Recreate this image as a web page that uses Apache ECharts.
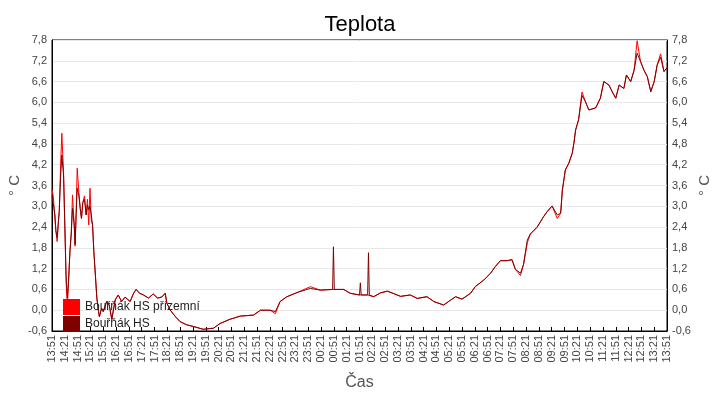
<!DOCTYPE html>
<html>
<head>
<meta charset="utf-8">
<script src="https://cdn.jsdelivr.net/npm/echarts@6/dist/echarts.min.js"></script>
<style>
  html, body { margin: 0; padding: 0; background: #fff; }
  #main { width: 720px; height: 400px; }
</style>
</head>
<body>
<div id="main"></div>
<script>
// minuty od 13:51
var minutes = [0,3,7,9,12,15,17,20,23,27,30,33,36,39,42,45,48,52,54,56,59,63,66,69,72,76,80,83,86,89,92,95,98,102,105,109,111,116,120,128,134,140,148,155,163,171,183,191,197,205,214,226,237,247,257,265,269,277,290,300,315,331,354,378,394,417,441,472,488,511,523,534,550,574,605,628,657,659,661,683,698,720,722,724,739,741,743,753,769,785,800,816,839,855,878,894,917,933,945,960,980,991,1011,1027,1038,1050,1066,1077,1085,1097,1104,1113,1120,1136,1151,1159,1171,1183,1191,1195,1202,1210,1218,1222,1226,1233,1241,1249,1257,1273,1284,1292,1304,1312,1320,1328,1339,1345,1355,1363,1370,1378,1386,1394,1402,1410,1417,1425,1433,1440];

var groundTemp = [3.5,3.28,2.6,2.3,1.98,2.56,2.85,4.1,5.11,4.0,2.46,0.8,0.1,0.9,1.7,2.2,3.33,2.46,1.85,2.56,4.1,3.4,2.94,2.65,3.1,3.3,2.75,3.2,2.46,3.52,2.6,2.46,1.69,0.93,0.35,-0.04,-0.19,0.06,-0.04,0.25,0.15,-0.28,0.3,0.44,0.25,0.38,0.25,0.49,0.6,0.49,0.44,0.35,0.47,0.35,0.38,0.49,0.2,0.0,-0.2,-0.33,-0.42,-0.47,-0.55,-0.52,-0.38,-0.26,-0.17,-0.14,0.0,0.0,-0.1,0.25,0.39,0.51,0.68,0.58,0.6,0.6,0.6,0.6,0.49,0.44,0.44,0.44,0.44,0.44,0.44,0.39,0.5,0.55,0.48,0.4,0.44,0.34,0.39,0.25,0.15,0.29,0.39,0.32,0.49,0.68,0.87,1.07,1.26,1.43,1.43,1.46,1.18,1.0,1.32,1.95,2.2,2.4,2.7,2.84,3.01,2.65,2.8,3.47,4.05,4.24,4.53,4.82,5.2,5.5,6.3,6.02,5.78,5.84,6.12,6.6,6.5,6.3,6.12,6.5,6.4,6.79,6.6,6.93,7.78,7.18,6.93,6.74,6.31,6.6,7.08,7.4,6.89,7.0];

var hsTemp = [3.3,3.28,2.75,2.3,2.1,2.56,2.85,3.8,4.48,3.9,2.46,1.0,0.35,0.9,1.7,2.2,2.94,2.46,1.9,2.56,3.52,3.3,2.94,2.65,3.1,3.2,2.75,3.04,2.9,3.0,2.75,2.46,1.69,0.93,0.35,-0.04,-0.19,0.06,-0.04,0.25,0.15,-0.25,0.3,0.44,0.25,0.38,0.25,0.49,0.6,0.49,0.44,0.35,0.47,0.35,0.38,0.49,0.2,0.0,-0.2,-0.33,-0.42,-0.47,-0.55,-0.52,-0.38,-0.26,-0.17,-0.14,0.0,0.0,-0.04,0.25,0.39,0.51,0.63,0.58,0.6,1.83,0.6,0.6,0.49,0.44,0.79,0.44,0.44,1.66,0.44,0.39,0.5,0.55,0.48,0.4,0.44,0.34,0.39,0.25,0.15,0.29,0.39,0.32,0.49,0.68,0.87,1.07,1.26,1.43,1.43,1.46,1.18,1.07,1.32,2.03,2.2,2.4,2.7,2.84,3.01,2.75,2.8,3.47,4.05,4.24,4.53,4.82,5.2,5.5,6.2,6.02,5.78,5.84,6.12,6.6,6.5,6.3,6.12,6.5,6.4,6.79,6.6,6.93,7.42,7.18,6.93,6.74,6.31,6.6,7.08,7.3,6.89,7.0];

var seriesNames = ['Bouřňák HS přízemní', 'Bouřňák HS'];
var startMinute = 13 * 60 + 51;

function timeLabel(m) {
  var t = (startMinute + m) % 1440;
  var h = Math.floor(t / 60), mm = t % 60;
  return (h < 10 ? '0' : '') + h + ':' + (mm < 10 ? '0' : '') + mm;
}
function tempLabel(v) {
  return v.toFixed(1).replace('.', ',');
}
function pairs(vals) {
  return minutes.map(function (m, i) { return [m, vals[i]]; });
}

var chart = echarts.init(document.getElementById('main'));

var yAxisBase = {
  type: 'value',
  min: -0.6,
  max: 7.8,
  interval: 0.6,
  name: '° C',
  nameLocation: 'middle',
  nameRotate: 90,
  nameGap: 30,
  nameMoveOverlap: false,
  nameTextStyle: { fontSize: 15, color: '#555', fontFamily: 'Liberation Sans' },
  axisLine: { show: true, lineStyle: { color: '#000' } },
  axisTick: { show: false },
  axisLabel: { fontSize: 11, color: '#444', margin: 5, fontFamily: 'Liberation Sans', formatter: tempLabel }
};

chart.setOption({
  animation: false,
  title: {
    text: 'Teplota',
    left: 'center',
    top: 9,
    textStyle: { fontSize: 22, fontWeight: 'normal', color: '#000', fontFamily: 'Liberation Sans' }
  },
  legend: {
    data: seriesNames,
    orient: 'vertical',
    left: 58,
    top: 294,
    icon: 'rect',
    itemWidth: 17,
    itemHeight: 16,
    itemGap: 1,
    textStyle: { fontSize: 12, color: '#222', fontFamily: 'Liberation Sans' }
  },
  grid: {
    left: 52, right: 53, top: 40, bottom: 69,
    outerBoundsMode: 'none',
    containLabel: false,
    show: true, borderColor: '#000', borderWidth: 1
  },
  xAxis: {
    type: 'value',
    min: 0,
    max: 1440,
    interval: 30,
    name: 'Čas',
    nameLocation: 'middle',
    nameGap: 44,
    nameMoveOverlap: false,
    nameTextStyle: { fontSize: 16, color: '#555', fontFamily: 'Liberation Sans' },
    axisLine: { onZero: false, lineStyle: { color: '#000' } },
    axisTick: { inside: true, length: 4, lineStyle: { color: '#000' } },
    splitLine: { show: false },
    axisLabel: { rotate: 90, fontSize: 11, color: '#444', margin: 4, fontFamily: 'Liberation Sans', formatter: timeLabel }
  },
  yAxis: [
    Object.assign({}, yAxisBase, {
      position: 'left',
      splitLine: { show: true, lineStyle: { color: '#e8e8e8' } }
    }),
    Object.assign({}, yAxisBase, {
      position: 'right',
      splitLine: { show: false }
    })
  ],
  series: [
    {
      name: seriesNames[0],
      type: 'line',
      data: pairs(groundTemp),
      showSymbol: false,
      color: '#ff0000',
      lineStyle: { width: 1 }
    },
    {
      name: seriesNames[1],
      type: 'line',
      data: pairs(hsTemp),
      showSymbol: false,
      color: '#800000',
      lineStyle: { width: 1 }
    }
  ]
});
</script>
</body>
</html>
